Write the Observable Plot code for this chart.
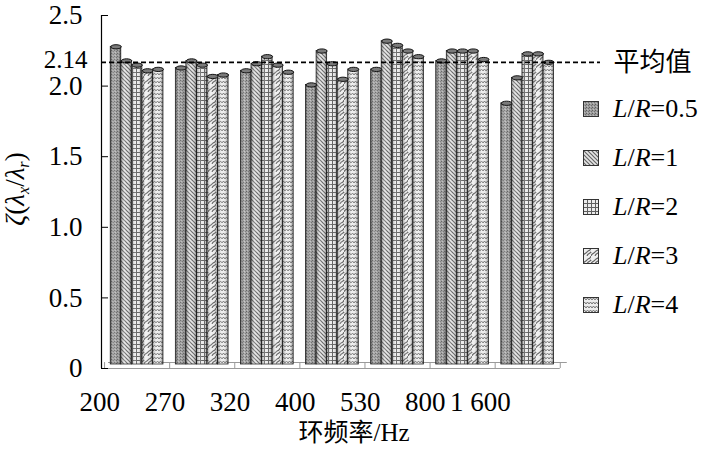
<!DOCTYPE html>
<html>
<head>
<meta charset="utf-8">
<script src="https://cdn.jsdelivr.net/npm/d3@7"></script>
<script src="https://cdn.jsdelivr.net/npm/@observablehq/plot@0.6"></script>
<style>
  html, body { margin: 0; padding: 0; background: #fff; }
  #wrap { position: relative; width: 709px; height: 467px; font-family: 'Liberation Serif', 'Times New Roman', 'Noto Sans CJK SC', serif; color: #000; }
  #ytitle { position: absolute; left: 17px; top: 189px; transform: translate(-50%, -50%) rotate(-90deg); white-space: nowrap; font-size: 27px; line-height: 1; }
  #ytitle sub { font-size: 0.6em; vertical-align: -0.35em; }
  #legend { position: absolute; left: 583px; top: 84px; }
  .lrow { display: flex; align-items: center; height: 49px; font-size: 26px; white-space: nowrap; }
  .lrow svg { margin-right: 14px; flex: none; }
</style>
</head>
<body>
<svg width="0" height="0" style="position:absolute">
  <defs>
    <pattern id="p0" width="3" height="3" patternUnits="userSpaceOnUse">
      <rect width="3" height="3" fill="#9c9c9c"/>
      <rect x="0" y="0" width="1" height="1" fill="#606060"/>
      <rect x="2" y="1" width="1" height="1" fill="#707070"/>
      <rect x="1" y="2" width="1" height="1" fill="#bdbdbd"/>
    </pattern>
    <pattern id="p1" width="4" height="4" patternUnits="userSpaceOnUse">
      <rect width="4" height="4" fill="#e6e6e6"/>
      <path d="M-1,-1 L5,5 M-1,3 L1,5 M3,-1 L5,1" stroke="#666" stroke-width="1.2"/>
    </pattern>
    <pattern id="p2" width="4" height="4" patternUnits="userSpaceOnUse">
      <rect width="4" height="4" fill="#ebebeb"/>
      <path d="M0,0.5 H4 M0.5,0 V4" stroke="#5f5f5f" stroke-width="1"/>
    </pattern>
    <pattern id="p3" width="8" height="8" patternUnits="userSpaceOnUse">
      <rect width="8" height="8" fill="#efefef"/>
      <path d="M0,8 C0.5,5 4,5 4,4 C4,3 7.5,3 8,0 M-4,8 C-3.5,5 0,5 0,4 M4,8 C4.5,5 8,5 8,4 C8,3 11.5,3 12,0" stroke="#5d5d5d" stroke-width="1.1" fill="none"/>
    </pattern>
    <pattern id="p4" width="6" height="4" patternUnits="userSpaceOnUse">
      <rect width="6" height="4" fill="#ececec"/>
      <path d="M0,3 L1.5,1 L3,3 L4.5,1 L6,3" stroke="#6a6a6a" stroke-width="0.9" fill="none"/>
    </pattern>
    <linearGradient id="shade" x1="0" x2="1" y1="0" y2="0">
      <stop offset="0" stop-color="#000" stop-opacity="0.35"/>
      <stop offset="0.35" stop-color="#fff" stop-opacity="0.2"/>
      <stop offset="0.6" stop-color="#fff" stop-opacity="0"/>
      <stop offset="1" stop-color="#000" stop-opacity="0.45"/>
    </linearGradient>
  </defs>
</svg>
<div id="wrap">
  <div id="ytitle"><i>ζ</i>(<i>λ</i><sub><i>x</i></sub>/<i>λ</i><sub><i>r</i></sub>)</div>
  <div id="legend"></div>
</div>
<script>
// ---- data ----
const freqLabels = ["200", "270", "320", "400", "530", "800", "1 600"];
const seriesNames = ["L/R=0.5", "L/R=1", "L/R=2", "L/R=3", "L/R=4"];
const valuesLR05 = [2.25, 2.10, 2.08, 1.98, 2.09, 2.15, 1.85];
const valuesLR1  = [2.15, 2.15, 2.13, 2.22, 2.29, 2.22, 2.03];
const valuesLR2  = [2.12, 2.12, 2.18, 2.13, 2.26, 2.22, 2.20];
const valuesLR3  = [2.08, 2.04, 2.12, 2.02, 2.22, 2.22, 2.20];
const valuesLR4  = [2.09, 2.05, 2.07, 2.09, 2.18, 2.16, 2.14];
const meanValue = 2.14;
const meanLabel = "平均值";
const yTicks = [0, 0.5, 1.0, 1.5, 2.0, 2.5];
const xAxisTitle = "环频率/Hz";

// ---- table ----
const seriesValues = [valuesLR05, valuesLR1, valuesLR2, valuesLR3, valuesLR4];
const patternIds = ["url(#p0)", "url(#p1)", "url(#p2)", "url(#p3)", "url(#p4)"];
const barW = 0.162;
const rows = [];
seriesValues.forEach((vals, s) => vals.forEach((v, i) => rows.push({
  i, s, name: seriesNames[s], value: v, cx: i + (s - 2) * barW
})));

const xMin = -0.547, xMax = 7.118;
const fontFamily = "'Liberation Serif', 'Times New Roman', 'Noto Sans CJK SC', serif";

const ellipse = {
  draw(context, size) {
    const rx = Math.sqrt(size / Math.PI), ry = rx * 0.4, k = 0.5523;
    context.moveTo(rx, 0);
    context.bezierCurveTo(rx, ry * k, rx * k, ry, 0, ry);
    context.bezierCurveTo(-rx * k, ry, -rx, ry * k, -rx, 0);
    context.bezierCurveTo(-rx, -ry * k, -rx * k, -ry, 0, -ry);
    context.bezierCurveTo(rx * k, -ry, rx, -ry * k, rx, 0);
    context.closePath();
  }
};

const chart = Plot.plot({
  width: 709,
  height: 467,
  marginLeft: 101,
  marginRight: 109,
  marginTop: 15,
  marginBottom: 99,
  style: { fontFamily, fontSize: "27px", color: "#000", background: "transparent" },
  x: { domain: [xMin, xMax], axis: null },
  y: { domain: [0, 2.5], axis: null },
  color: { type: "ordinal", domain: seriesNames, range: patternIds },
  marks: [
    // floor
    Plot.ruleY([0], { x1: xMin, x2: 6.5, stroke: "#9a9a9a", strokeWidth: 1 }),
    Plot.ruleY([0], { x1: xMin, x2: 6.5, stroke: "#9a9a9a", strokeWidth: 1, dx: 7, dy: -6 }),
    Plot.ruleX(d3.range(-0.5, 7, 1), { y1: 0, y2: 0.042, stroke: "#9a9a9a", strokeWidth: 1 }),
    // axis line
    Plot.ruleX([xMin], { y1: 0, y2: 2.5, stroke: "#000", strokeWidth: 1.2 }),
    Plot.axisY({ ticks: yTicks, label: null, tickSize: -7, tickPadding: 26, fontSize: 27,
      tickFormat: d => d === 0 ? "0" : d.toFixed(1) }),
    // bars
    Plot.rectY(rows, { x1: d => d.cx - barW / 2, x2: d => d.cx + barW / 2, y: "value",
      fill: "name", stroke: "#2a2a2a", strokeWidth: 0.8, dy: -4 }),
    Plot.rectY(rows, { x1: d => d.cx - barW / 2, x2: d => d.cx + barW / 2, y: "value",
      fill: "url(#shade)", dy: -4 }),
    Plot.dot(rows, { x: "cx", y: "value", symbol: ellipse, r: barW * 65.1 / 2,
      fill: "#7a7a7a", stroke: "#111", strokeWidth: 1, dy: -4 }),
    // mean line
    Plot.ruleY([meanValue], { stroke: "#000", strokeWidth: 1.6, strokeDasharray: "5,3", dy: -4 }),
    Plot.text([meanValue], { y: d => d, text: () => meanLabel, frameAnchor: "right",
      textAnchor: "start", dx: 13, dy: -4, fontSize: 26 }),
    Plot.text([meanValue], { y: d => d, text: d => d.toFixed(2), frameAnchor: "left",
      textAnchor: "end", dx: -14, dy: -6, fontSize: 25 }),
    // x tick labels
    Plot.text(d3.range(freqLabels.length), { x: d => d, text: d => freqLabels[d],
      frameAnchor: "bottom", textAnchor: "end", dx: -17, dy: 42, fontSize: 27 }),
    // x title
    Plot.text([xAxisTitle], { text: d => d, frameAnchor: "bottom", dx: 3, dy: 72, fontSize: 25 })
  ]
});

const wrap = document.getElementById("wrap");
chart.style.position = "absolute";
chart.style.left = "0";
chart.style.top = "0";
wrap.insertBefore(chart, wrap.firstChild);

// legend
const legend = d3.select("#legend");
seriesNames.forEach((name, s) => {
  const row = legend.append("div").attr("class", "lrow");
  const sv = row.append("svg").attr("width", 16).attr("height", 16);
  sv.append("rect").attr("x", 0.5).attr("y", 0.5).attr("width", 15).attr("height", 15)
    .attr("fill", patternIds[s]).attr("stroke", "#333").attr("stroke-width", 1);
  const [lhs, rhs] = name.split("=");
  const [l, r] = lhs.split("/");
  row.append("span").html(`<i>${l}</i>/<i>${r}</i>=${rhs}`);
});
</script>
</body>
</html>
